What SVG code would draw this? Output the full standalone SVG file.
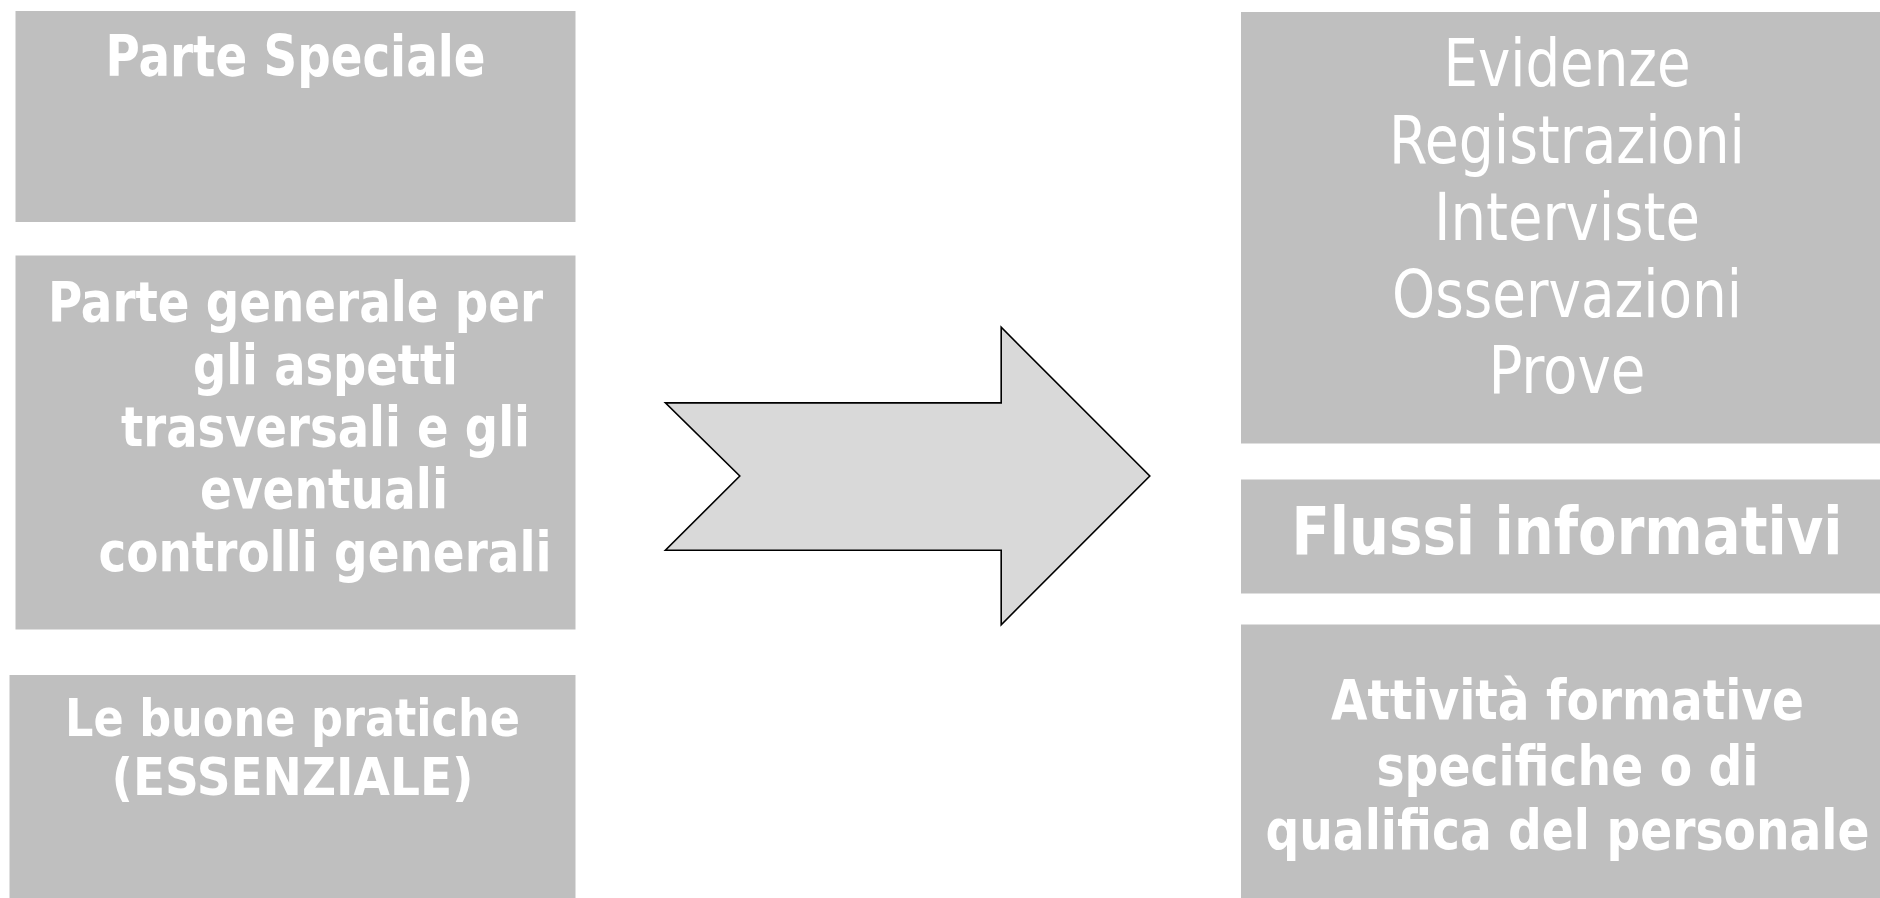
<svg xmlns="http://www.w3.org/2000/svg" width="1880" height="898" viewBox="0 0 1880 898">
<style>
.box{fill:#BFBFBF;}
.t{fill:#FFFFFF;font-family:'DejaVu Sans Condensed','DejaVu Sans',sans-serif;font-stretch:condensed;text-anchor:middle;}
.b{font-weight:bold;}
.arrow{fill:#D9D9D9;stroke:#000000;stroke-width:1.6;stroke-linejoin:miter;}
</style>
<rect width="1880" height="898" fill="#FFFFFF"/>
<g id="parte-speciale">
<rect class="box" x="15.5" y="11" width="560" height="211"/>
<text class="t b" x="295.5" y="75.5" font-size="57" textLength="380" lengthAdjust="spacingAndGlyphs">Parte Speciale</text>
</g>
<g id="parte-generale">
<rect class="box" x="15.5" y="255.5" width="560" height="374"/>
<text class="t b" font-size="55" x="295.5" y="321" textLength="495" lengthAdjust="spacingAndGlyphs">Parte generale per</text>
<text class="t b" font-size="55" x="325.5" y="383.5" textLength="265" lengthAdjust="spacingAndGlyphs">gli aspetti</text>
<text class="t b" font-size="55" x="325.5" y="446" textLength="409" lengthAdjust="spacingAndGlyphs">trasversali e gli</text>
<text class="t b" font-size="55" x="324" y="508" textLength="248" lengthAdjust="spacingAndGlyphs">eventuali</text>
<text class="t b" font-size="55" x="325" y="570.5" textLength="453" lengthAdjust="spacingAndGlyphs">controlli generali</text>
</g>
<g id="buone-pratiche">
<rect class="box" x="9.5" y="675" width="566" height="230"/>
<text class="t b" font-size="52" x="292.5" y="736" textLength="455" lengthAdjust="spacingAndGlyphs">Le buone pratiche</text>
<text class="t b" font-size="52" x="292.5" y="795" textLength="362" lengthAdjust="spacingAndGlyphs">(ESSENZIALE)</text>
</g>
<g id="connectors">
<polygon id="block-arrow" class="arrow" points="665.4,402.9 1001.2,402.9 1001.2,327.3 1149.8,476 1001.2,624.7 1001.2,550.3 665.4,550.3 739.8,476"/>
</g>
<g id="evidenze">
<rect class="box" x="1241" y="12" width="700" height="431.5"/>
<text class="t" font-size="65" x="1567" y="86" textLength="247" lengthAdjust="spacingAndGlyphs">Evidenze</text>
<text class="t" font-size="65" x="1567" y="163" textLength="356" lengthAdjust="spacingAndGlyphs">Registrazioni</text>
<text class="t" font-size="65" x="1567" y="240" textLength="266" lengthAdjust="spacingAndGlyphs">Interviste</text>
<text class="t" font-size="65" x="1567" y="316.5" textLength="350" lengthAdjust="spacingAndGlyphs">Osservazioni</text>
<text class="t" font-size="65" x="1567" y="393" textLength="157" lengthAdjust="spacingAndGlyphs">Prove</text>
</g>
<g id="flussi">
<rect class="box" x="1241" y="479.5" width="700" height="114"/>
<text class="t b" font-size="65" x="1567" y="554" textLength="551" lengthAdjust="spacingAndGlyphs">Flussi informativi</text>
</g>
<g id="attivita">
<rect class="box" x="1241" y="624.5" width="700" height="290"/>
<text class="t b" font-size="55" x="1567.5" y="719" textLength="473" lengthAdjust="spacingAndGlyphs">Attività formative</text>
<text class="t b" font-size="55" x="1567.5" y="785" textLength="382" lengthAdjust="spacingAndGlyphs">specifiche o di</text>
<text class="t b" font-size="55" x="1567.5" y="849" textLength="604" lengthAdjust="spacingAndGlyphs">qualifica del personale</text>
</g>
</svg>
